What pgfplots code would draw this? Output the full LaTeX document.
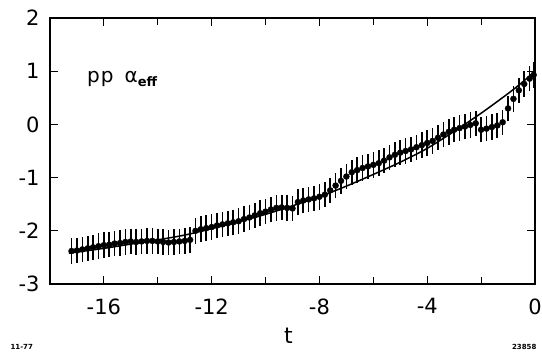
\documentclass[border=0pt]{standalone}
\usepackage{fontspec}
\setmainfont{DejaVu Sans}
\usepackage{pgfplots}
\pgfplotsset{compat=1.18}
\begin{document}
\begin{tikzpicture}
\begin{axis}[
  scale only axis, width=485pt, height=266pt,
  xmin=-18, xmax=0, ymin=-3, ymax=2,
  xtick={-16,-12,-8,-4,0}, minor xtick={-18,-14,-10,-6,-2},
  ytick={-3,-2,-1,0,1,2},
  tick align=inside, xtick pos=both, ytick pos=both,
  major tick length=8pt, minor tick length=7pt,
  every tick/.style={line width=1.2pt, black},
  axis line style={line width=1.6pt},
  /pgf/number format/assume math mode=true,
  ticklabel style={font=\fontsize{21}{21}\selectfont},
  xticklabel style={yshift=-11pt},
  yticklabel style={xshift=-7pt},
  clip=false,
]
\coordinate (sw) at (rel axis cs:0,0);
\coordinate (se) at (rel axis cs:1,0);
\coordinate (ne) at (rel axis cs:1,1);
% fitted curve
\addplot[black, line width=1.5pt, smooth, tension=0.5] coordinates {
(-17.3,-2.42) (-16,-2.33) (-15,-2.25) (-14,-2.17) (-13,-2.08) (-12,-1.96)
(-11,-1.83) (-10,-1.69) (-9,-1.53) (-8,-1.36) (-7,-1.16) (-6,-0.94)
(-5,-0.71) (-4,-0.45) (-3,-0.13) (-2,0.21) (-1,0.58) (-0.5,0.78) (0,1.0)
};
% data with error bars
\addplot[black, only marks, mark=*, mark size=3pt,
  error bars/.cd, y dir=both, y fixed=0.24, error mark=none,
  error bar style={line width=1.6pt, black}] coordinates {
(-17.2,-2.38) (-17.0,-2.37) (-16.8,-2.35) (-16.6,-2.33) (-16.4,-2.31)
(-16.2,-2.29) (-16.0,-2.27) (-15.8,-2.26) (-15.6,-2.24) (-15.4,-2.23)
(-15.2,-2.21) (-15.0,-2.20) (-14.8,-2.21) (-14.6,-2.20) (-14.4,-2.19)
(-14.2,-2.19) (-14.0,-2.20) (-13.8,-2.21) (-13.6,-2.22) (-13.4,-2.21)
(-13.2,-2.20) (-13.0,-2.19) (-12.8,-2.17) (-12.6,-2.00) (-12.4,-1.97)
(-12.2,-1.95) (-12.0,-1.93) (-11.8,-1.90) (-11.6,-1.88) (-11.4,-1.86)
(-11.2,-1.84) (-11.0,-1.82) (-10.8,-1.78) (-10.6,-1.75) (-10.4,-1.71)
(-10.2,-1.67) (-10.0,-1.64) (-9.8,-1.60) (-9.6,-1.57) (-9.4,-1.56)
(-9.2,-1.57) (-9.0,-1.58) (-8.8,-1.46) (-8.6,-1.43) (-8.4,-1.41)
(-8.2,-1.39) (-8.0,-1.36) (-7.8,-1.32) (-7.6,-1.24) (-7.4,-1.15)
(-7.2,-1.06) (-7.0,-0.98) (-6.8,-0.90) (-6.6,-0.86) (-6.4,-0.82)
(-6.2,-0.79) (-6.0,-0.76) (-5.8,-0.73) (-5.6,-0.68) (-5.4,-0.62)
(-5.2,-0.57) (-5.0,-0.53) (-4.8,-0.50) (-4.6,-0.47) (-4.4,-0.43)
(-4.2,-0.39) (-4.0,-0.35) (-3.8,-0.31) (-3.6,-0.25) (-3.4,-0.19)
(-3.2,-0.14) (-3.0,-0.10) (-2.8,-0.07) (-2.6,-0.04) (-2.4,-0.01)
(-2.2,0.02) (-2.0,-0.10) (-1.8,-0.08) (-1.6,-0.05) (-1.4,-0.02)
(-1.2,0.04) (-1.0,0.30) (-0.8,0.48) (-0.6,0.64) (-0.4,0.76)
(-0.2,0.86) (-0.05,0.93)
};
\node[anchor=base west, font=\fontsize{20}{20}\selectfont] at (axis cs:-16.75,0.78)
  {p\kern1pt p\hspace{11pt}α\raisebox{-4pt}{\fontsize{13}{13}\selectfont\bfseries eff}};
\node[font=\fontsize{22}{22}\selectfont, yshift=-52pt] at (axis cs:-9.15,-3) {t};
\end{axis}
\node[anchor=base west, font=\fontsize{7}{7}\selectfont\bfseries] at ([shift={(-43pt,-66pt)}]sw) {11-77};
\node[anchor=base east, font=\fontsize{7}{7}\selectfont\bfseries] at ([shift={(5pt,-66pt)}]se) {23858};
\pgfresetboundingbox
\path[use as bounding box] ([shift={(-50pt,-71pt)}]sw) rectangle ([shift={(7pt,18pt)}]ne);
\end{tikzpicture}
\end{document}
